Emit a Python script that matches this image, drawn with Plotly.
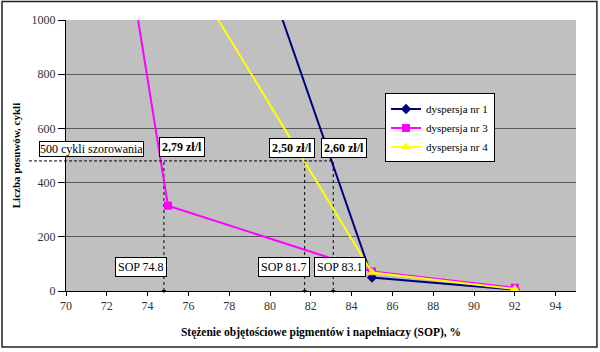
import plotly.graph_objects as go

# ---- data ----
series_names = ["dyspersja nr 1", "dyspersja nr 3", "dyspersja nr 4"]
x_d1 = [80.55, 85.0, 92.0]
y_d1 = [1015, 50, 5]
x_d3 = [73.5, 75.0, 85.0, 92.0]
y_d3 = [1015, 315, 72, 12]
x_d4 = [77.35, 85.0, 92.0]
y_d4 = [1015, 68, 7]

threshold = 480
threshold_label = "500 cykli szorowania"
sop_values = [74.8, 81.7, 83.1]
sop_labels = ["SOP 74.8", "SOP 81.7", "SOP 83.1"]
price_labels = ["2,79 zł/l", "2,50 zł/l", "2,60 zł/l"]

x_ticks = list(range(70, 96, 2))
y_ticks = list(range(0, 1001, 200))

FONT = "Liberation Serif"

colors = ["#000080", "#FF00FF", "#FFFF00"]
symbols = ["diamond", "square", "triangle-up"]
msizes = [8, 8, 9]

fig = go.Figure()

# dashed vertical guide lines
for s in sop_values:
    fig.add_trace(go.Scatter(
        x=[s, s], y=[0, threshold], mode="lines",
        line=dict(color="#000000", width=1, dash="3px,3px"),
        showlegend=False, hoverinfo="skip"))
fig.add_trace(go.Scatter(
    x=sop_values, y=[0] * len(sop_values), mode="markers",
    marker=dict(color="#000000", size=4, symbol="triangle-down"),
    cliponaxis=False, showlegend=False, hoverinfo="skip"))

for name, xs, ys, c, sym, ms in zip(series_names, [x_d1, x_d3, x_d4], [y_d1, y_d3, y_d4],
                                    colors, symbols, msizes):
    fig.add_trace(go.Scatter(
        x=xs, y=ys, mode="lines+markers", name=name,
        line=dict(color=c, width=2),
        marker=dict(color=c, symbol=sym, size=ms)))

# horizontal dashed threshold line (extends left of plot area)
fig.add_shape(type="line", xref="paper", yref="y",
              x0=-0.0725, x1=(max(sop_values) - 70) / 25,
              y0=threshold, y1=threshold,
              line=dict(color="#000000", width=1, dash="3px,2px"))

# outer frame
fig.add_shape(type="rect", xref="paper", yref="paper",
              x0=-0.1255, x1=1.041, y0=-0.2065, y1=1.068,
              line=dict(color="#222222", width=1.5), layer="below")

ann_font = dict(family=FONT, size=12, color="#000000")
fig.add_annotation(x=71.23, y=524, text=threshold_label, showarrow=False,
                   font=dict(family=FONT, size=12, color="#000000"),
                   bgcolor="#FFFFFF", bordercolor="#000000", borderwidth=1, borderpad=0)
for px, py, t in zip([75.71, 81.08, 83.63], [533, 528, 528], price_labels):
    fig.add_annotation(x=px, y=py, text="<b>" + t + "</b>", showarrow=False,
                       font=dict(family=FONT, size=12, color="#000000"),
                       bgcolor="#FFFFFF", bordercolor="#000000", borderwidth=1, borderpad=2)
for px, t in zip([73.70, 80.69, 83.41], sop_labels):
    fig.add_annotation(x=px, y=90, text=t, showarrow=False, font=ann_font,
                       bgcolor="#FFFFFF", bordercolor="#000000", borderwidth=1, borderpad=2)

fig.update_layout(
    width=600, height=352,
    margin=dict(l=66, r=24, t=20, b=61),
    paper_bgcolor="#FFFFFF", plot_bgcolor="#C0C0C0",
    font=dict(family=FONT, size=11, color="#000000"),
    showlegend=True,
    legend=dict(x=0.6255, y=0.7288, xanchor="left", yanchor="top",
                bgcolor="#FFFFFF", bordercolor="#000000", borderwidth=1,
                font=dict(family=FONT, size=11, color="#000000"),
                itemwidth=30, tracegroupgap=0),
    xaxis=dict(range=[70, 95], tickvals=x_ticks, ticktext=[str(v) for v in x_ticks],
               showgrid=False, zeroline=False, showline=True, linecolor="#000000",
               linewidth=1, ticks="outside", ticklen=4, tickcolor="#000000",
               tickfont=dict(family=FONT, size=12, color="#333333"),
               title=dict(text="<b>Stężenie objętościowe pigmentów i napełniaczy (SOP), %</b>",
                          font=dict(family=FONT, size=11.5, color="#000000"), standoff=15)),
    yaxis=dict(range=[0, 1000], tickvals=y_ticks, ticktext=[str(v) for v in y_ticks],
               showgrid=True, gridcolor="#5A5A5A", gridwidth=1, zeroline=False,
               showline=True, linecolor="#000000", linewidth=1,
               ticks="outside", ticklen=7, tickcolor="#000000",
               tickfont=dict(family=FONT, size=12, color="#333333"),
               title=dict(text="<b>Liczba posuwów, cykli</b>",
                          font=dict(family=FONT, size=11, color="#000000"), standoff=8)),
)

fig.write_html("out.html")
